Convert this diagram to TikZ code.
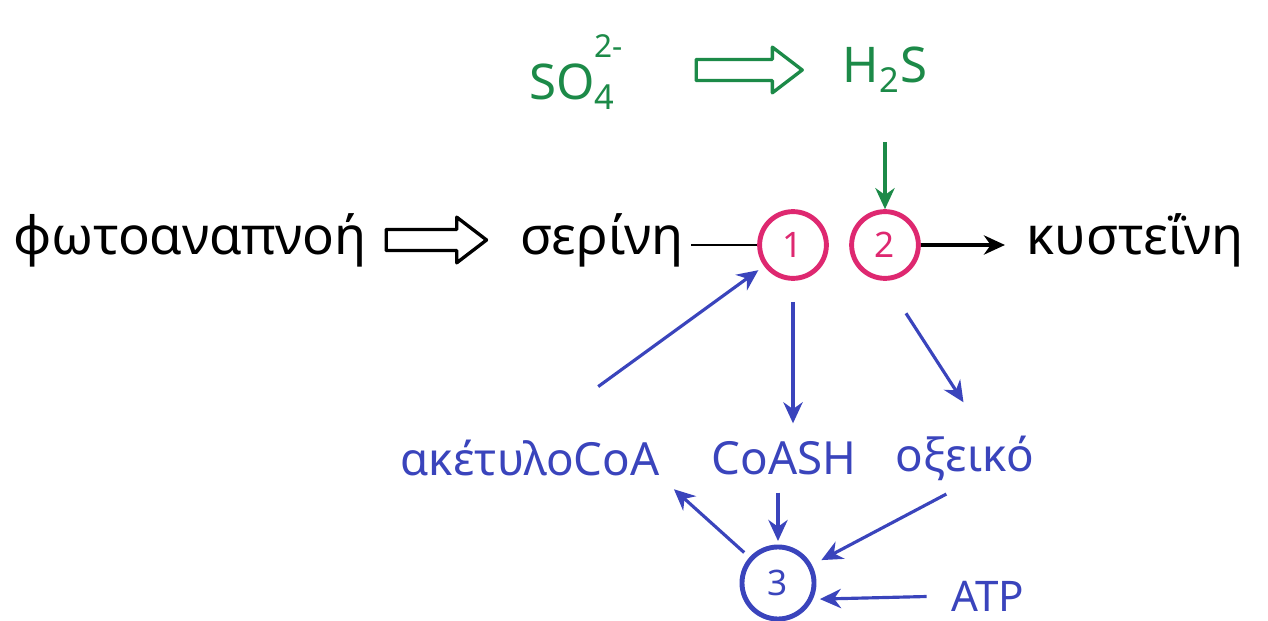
\documentclass[tikz,border=0pt]{standalone}
\usepackage{fontspec}
\setmainfont{Noto Sans}
\usetikzlibrary{%
	arrows.meta,%
	calc%
}
\definecolor{enzpink}{RGB}{222,40,112}
\definecolor{pathblue}{RGB}{58,68,188}
\definecolor{sulgreen}{RGB}{28,138,72}
\tikzstyle{metab}=[font=\fontsize{30}{34}\selectfont, inner sep=2pt]
\tikzstyle{small}=[font=\fontsize{26}{30}\selectfont, inner sep=2pt, text=pathblue]
\tikzstyle{enz}=[circle, draw, line width=2.8pt, minimum size=38pt, inner sep=0pt, font=\fontsize{20}{22}\selectfont]
\tikzstyle{arr}=[line width=1.8pt, -{Stealth[length=12pt,width=11pt]}]
% hollow block arrow between two coordinates
\newcommand{\fatarrow}[3][black]{%
	\draw[#1, line width=1.9pt, line join=round] ($(#2)+(0,6pt)$) -- ($(#3)+(-17pt,6pt)$) -- ($(#3)+(-17pt,13pt)$) -- (#3) -- ($(#3)+(-17pt,-13pt)$) -- ($(#3)+(-17pt,-6pt)$) -- ($(#2)+(0,-6pt)$) -- cycle;}

\begin{document}
\begin{tikzpicture}[x=0.02cm, y=-0.02cm, line join=round]
	\useasboundingbox (0,0) rectangle (1268,621);
	
	% sulfate -> H2S
	\node[metab, text=sulgreen, font=\fontsize{28}{32}\selectfont] (so4) at (572,72) {SO\rlap{\raisebox{0.85em}{\fontsize{18}{20}\selectfont 2-}}\textsubscript{4}};
	\node[metab, text=sulgreen, font=\fontsize{28}{32}\selectfont] (h2s) at (885,70) {H\textsubscript{2}S};
	\coordinate (sa) at ([xshift=44pt]so4.east |- h2s.center);
	\coordinate (sb) at ([xshift=-21pt]h2s.west);
	\fatarrow[sulgreen]{sa}{sb}
	
	% main row
	\node[metab] (phot) at (190,240) {φωτοαναπνοή};
	\node[metab] (ser) at (602,240) {σερίνη};
	\node[enz, enzpink] (e1) at (793,245) {1};
	\node[enz, enzpink] (e2) at (885,245) {2};
	\node[metab] (cys) at (1135,240) {κυστεΐνη};
	
	\coordinate (pa) at ([xshift=9pt]phot.east);
	\coordinate (pb) at ([xshift=-17pt]ser.west);
	\fatarrow{pa}{pb}
	\draw[line width=1.7pt, shorten <=2pt] (ser.east |- e1.west) -- (e1.west);
	\draw[arr, shorten >=10pt] (e2.east) -- (e2.east -| cys.west);
	\draw[arr, sulgreen, shorten <=26pt] (h2s) -- (e2.north);
	
	% acetyl-CoA cycle
	\node[small] (acoa) at (530,458) {ακέτυλοCoA};
	\node[small] (coash) at (784,458) {CoASH};
	\node[small] (acet) at (965,458) {οξεικό};
	\node[enz, pathblue, minimum size=41pt] (e3) at (778,583) {3};
	\node[small, font=\fontsize{24}{28}\selectfont] (atp) at (988,596) {ATP};
	
	\draw[arr, pathblue, shorten <=48pt, shorten >=4pt] (acoa.north) -- (e1);
	\draw[arr, pathblue, shorten <=12pt, shorten >=8pt] (e1.south) -- (e1.south |- coash.north);
	\draw[arr, pathblue, shorten <=22pt, shorten >=20pt] (e2.south) -- ([xshift=10pt]acet.north);
	\draw[arr, pathblue, shorten <=8pt, shorten >=2pt] (e3.north |- coash.south) -- (e3.north);
	\draw[arr, pathblue, shorten <=4pt, shorten >=8pt] (e3) -- (acoa.south east);
	\draw[arr, pathblue, shorten <=12pt, shorten >=6pt] (acet.south) -- (e3);
	\draw[arr, pathblue, shorten <=12pt, shorten >=4pt] (atp.west) -- (e3.-25);
\end{tikzpicture}
\end{document}
